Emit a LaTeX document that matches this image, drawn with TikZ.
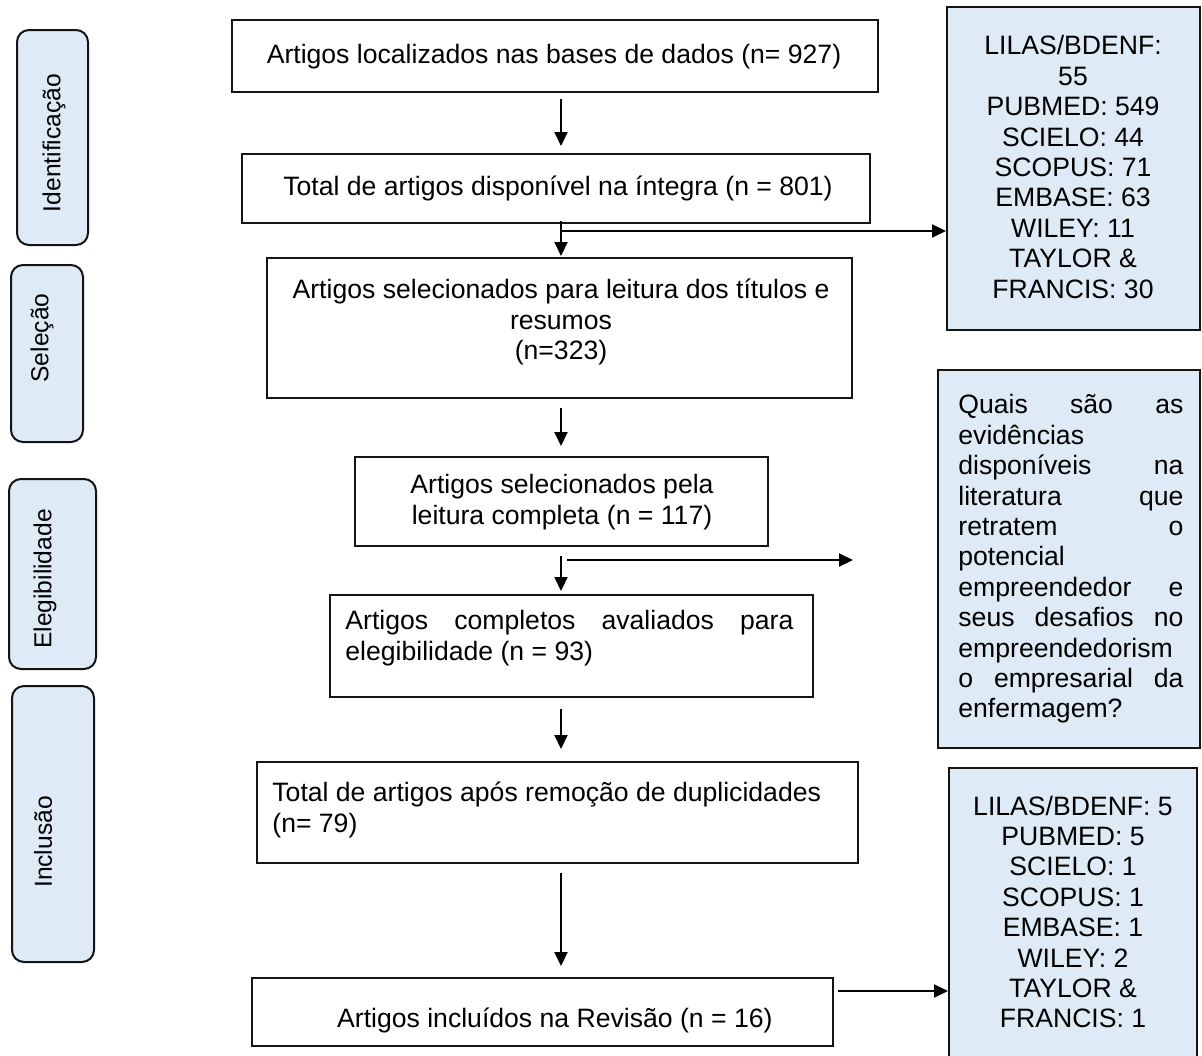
\documentclass[tikz,border=0pt]{standalone}
\usepackage{fontspec}
\setmainfont{Liberation Sans}
\usetikzlibrary{arrows.meta, positioning, fit, calc}
\definecolor{panel}{RGB}{222, 234, 246}
\definecolor{edge}{RGB}{20, 20, 20}
\hyphenpenalty=10000
\hbadness=10000

\begin{document}
\begin{tikzpicture}[x=0.5pt, y=-0.5pt,
    stagebox/.style={draw=edge, line width=1pt, inner sep=0pt},
    dbbox/.style={stagebox, fill=panel},
    phase/.style={draw=edge, line width=1pt, fill=panel, rounded corners=6pt, inner sep=0pt},
    txt/.style={font=\fontsize{13.3}{15.2}\selectfont, inner sep=0pt},
    phasetxt/.style={font=\fontsize{12.3}{14}\selectfont, rotate=90, inner sep=0pt},
    flow/.style={-{Triangle[length=7pt, width=6.5pt]}, line width=1pt}]
    \useasboundingbox (0,0) rectangle (1202,1055);
    \clip (0,0) rectangle (1202,1055);

    % Phases
    \node[phase, fit={(17,30) (88,245)}] (ph1) {};
    \node[phase, fit={(11,265) (83,442)}] (ph2) {};
    \node[phase, fit={(9,479) (96,669)}] (ph3) {};
    \node[phase, fit={(12,686) (94,962)}] (ph4) {};
    \node[phasetxt] at (54,143) {Identificação};
    \node[phasetxt] at (42,338) {Seleção};
    \node[phasetxt] at (45,579) {Elegibilidade};
    \node[phasetxt] at (43,842) {Inclusão};

    % Stages
    \node[stagebox, fit={(232,20) (878,92)}] (b1) {};
    \node[stagebox, fit={(242,154) (870,223)}] (b2) {};
    \node[stagebox, fit={(267,258) (852,398)}] (b3) {};
    \node[stagebox, fit={(355,457) (768,546)}] (b4) {};
    \node[stagebox, fit={(330,595) (813,697)}] (b5) {};
    \node[stagebox, fit={(257,762) (858,863)}] (b6) {};
    \node[stagebox, fit={(252,978) (833,1046)}] (b7) {};

    % Stage labels
    \node[txt, align=center] at (554,57) {Artigos localizados nas bases de dados (n= 927)};
    \node[txt, align=center] at (558,188) {Total de artigos disponível na íntegra (n = 801)};
    \node[txt, align=center] at (561,322) {Artigos selecionados para leitura dos títulos e\\resumos\\(n=323)};
    \node[txt, align=center] at (562,502) {Artigos selecionados pela\\leitura completa (n = 117)};
    \node[txt, anchor=west, text width=224pt, align=justify] at (345,638) {Artigos completos avaliados para\linebreak elegibilidade (n = 93)};
    \node[txt, anchor=west, align=left] at (272,810) {Total de artigos após remoção de duplicidades\\(n= 79)};
    \node[txt, anchor=east] at (773,1020) {Artigos incluídos na Revisão (n = 16)};

    % Side boxes
    \node[dbbox, fit={(947,7) (1200,330)}] (dbA) {};
    \node[dbbox, fit={(938,370) (1200,748)}] (quest) {};
    \node[dbbox, fit={(949,768) (1197,1065)}] (dbC) {};
    \node[txt, align=center] at (1073,167) {LILAS/BDENF:\\55\\PUBMED: 549\\SCIELO: 44\\SCOPUS: 71\\EMBASE: 63\\WILEY: 11\\TAYLOR \&\\FRANCIS: 30};
    \node[txt, anchor=west, text width=112.5pt, align=justify] at (958,559) {Quais são as\linebreak evidências\newline disponíveis na\linebreak literatura que\linebreak retratem o\linebreak potencial\newline empreendedor e\linebreak seus desafios no\linebreak empreendedorism\newline o empresarial da\linebreak enfermagem?};
    \node[txt, align=center] at (1073,912) {LILAS/BDENF: 5\\PUBMED: 5\\SCIELO: 1\\SCOPUS: 1\\EMBASE: 1\\WILEY: 2\\TAYLOR \&\\FRANCIS: 1};

    % Arrows
    \coordinate (spine) at (561,0);
    \draw[flow, shorten <=3pt, shorten >=3.5pt] (b1.south -| spine) -- (b2.north -| spine);
    \draw[flow, shorten <=-1.5pt, shorten >=0.5pt] (b2.south -| spine) -- (b3.north -| spine);
    \draw[flow, shorten <=4.5pt, shorten >=5pt] (b3.south -| spine) -- (b4.north -| spine);
    \draw[flow, shorten <=4.5pt, shorten >=1.5pt] (b4.south -| spine) -- (b5.north -| spine);
    \draw[flow, shorten <=5.5pt, shorten >=6pt] (b5.south -| spine) -- (b6.north -| spine);
    \draw[flow, shorten <=4.5pt, shorten >=5.5pt] (b6.south -| spine) -- (b7.north -| spine);

    \coordinate (fork1) at (561,231);
    \draw[flow] (fork1) -- (fork1 -| dbA.west);
    \coordinate (fork2) at (567,560);
    \coordinate (loose) at (853,560);
    \draw[flow] (fork2) -- (loose);
    \coordinate (out7) at ($(b7.north east)+(4,14)$);
    \draw[flow] (out7) -- (out7 -| dbC.west);
\end{tikzpicture}
\end{document}
